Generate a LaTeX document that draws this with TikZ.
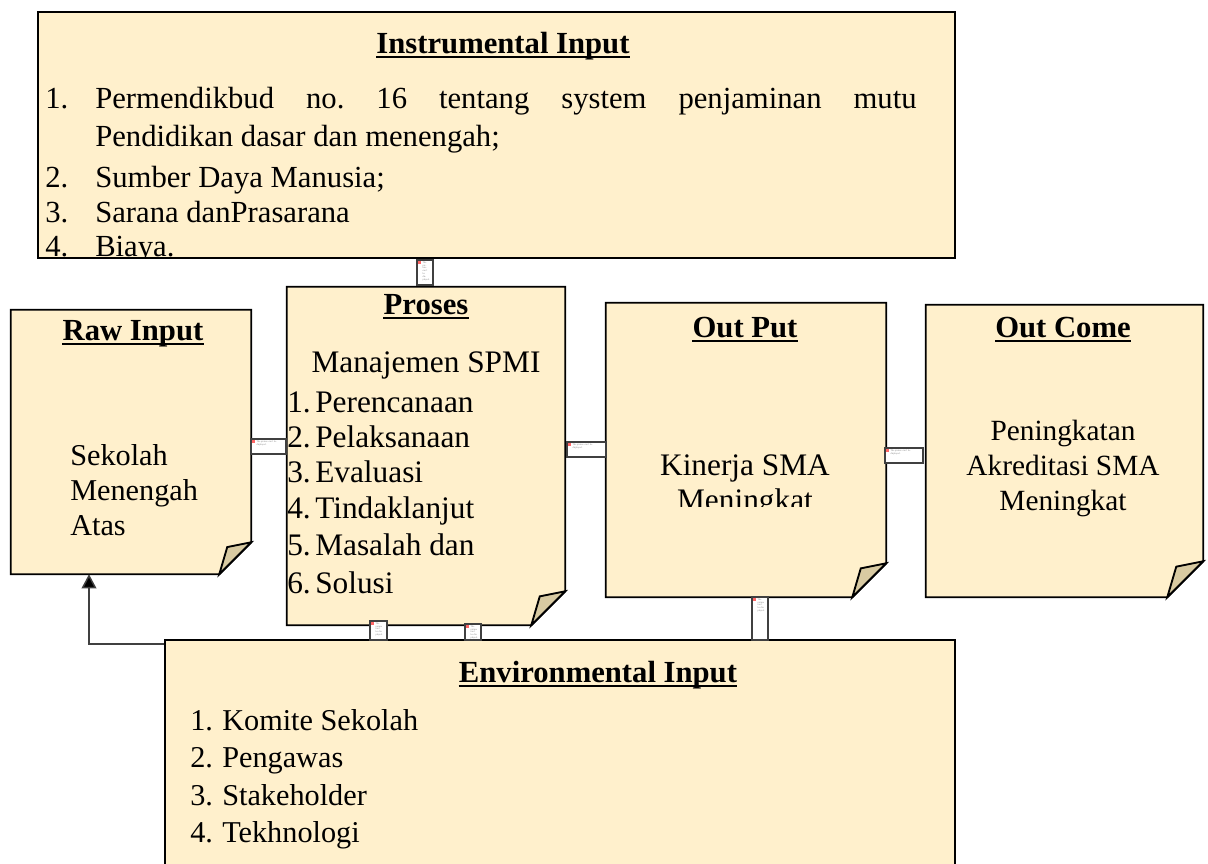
\documentclass[tikz,border=0pt]{standalone}
\usepackage{fontspec}
\setmainfont{Liberation Serif}
\frenchspacing
\usetikzlibrary{calc,fit,arrows.meta}
\definecolor{cream}{HTML}{FFF0CC}
\definecolor{foldc}{HTML}{D8CAA2}
\definecolor{lineg}{HTML}{404040}
\newcommand\insf{\fontsize{23}{27}\selectfont}
\newcommand\bigf{\fontsize{23.5}{27}\selectfont}
\newcommand\envf{\fontsize{22.7}{27}\selectfont}
\newcommand\ocf{\fontsize{22}{27}\selectfont}
\newcommand\headf{\fontsize{23}{27}\selectfont\bfseries}
% folded-corner box
\newcommand\foldbox[6]{%
  \path (#2,#3) coordinate (#1-nw) (#4,#5) coordinate (#1-se);
  \node[fit=(#1-nw)(#1-se), inner sep=0pt, draw=none] (#1) {};
  \filldraw[boxline, fill=cream] (#1.north west) -- (#1.north east) -- ($(#1.south east)+(0,-#6)$) -- ($(#1.south east)+(-#6,0)$) -- (#1.south west) -- cycle;
  \filldraw[boxline, fill=foldc] ($(#1.south east)+(-#6,0)$) -- ($(#1.south east)+(-0.75*#6,-0.85*#6)$) -- ($(#1.south east)+(0,-#6)$) -- cycle;
}
% broken picture placeholder
\newcommand\placeholder[6]{%
  \path (#2,#3) coordinate (#1-nw) (#4,#5) coordinate (#1-se);
  \node[fit=(#1-nw)(#1-se), inner sep=0pt, draw=lineg, line width=1pt, fill=white] (#1) {};
  \fill[red!60] ($(#1.north west)+(2,2)$) rectangle ++(3,3);
  \node[anchor=north west, inner sep=0pt, font=\fontsize{1.8}{2.1}\selectfont, text=gray, align=left, text width=#6] at ($(#1.north west)+(6,2)$) {The picture can't be displayed.};
}
% heading with thick underline
\newcommand\heading[3]{%
  \node[head] (#1) at (#2) {#3};
  \draw[line width=2pt] ([yshift=-3pt]#1.base west) -- ([yshift=-3pt]#1.base east);
}
\begin{document}
\begin{tikzpicture}[x=0.75pt,y=-0.75pt,
  boxline/.style={draw=black, line width=1.4pt, line join=miter},
  txt/.style={anchor=base west, inner sep=0pt},
  ctxt/.style={anchor=base, inner sep=0pt},
  head/.style={anchor=base, inner sep=0pt, font=\headf},
  arrowline/.style={draw=lineg, line width=1.1pt, -{Triangle[width=11pt,length=10.5pt,fill=black]}}]
\useasboundingbox (0,0) rectangle (1208,864);
\clip (0,0) rectangle (1208,864);

% Instrumental Input
\path (38,12) coordinate (ins-nw) (955,258) coordinate (ins-se);
\node[fit=(ins-nw)(ins-se), inner sep=0pt, boxline, fill=cream] (ins) {};
\begin{scope}
\clip (ins.north west) rectangle (ins.south east);
\heading{insh}{503,53}{Instrumental Input}
\begin{scope}[every node/.append style={font=\insf}]
\node[txt] (i1n) at (45,108) {1.};
\node[txt] (i1) at (95,108) {\makebox[616pt][s]{Permendikbud no. 16 tentang system penjaminan mutu}};
\node[txt] (i1b) at (95,146) {Pendidikan dasar dan menengah;};
\node[txt] (i2n) at (45,187) {2.};
\node[txt] (i2) at (95,187) {Sumber Daya Manusia;};
\node[txt] (i3n) at (45,222) {3.};
\node[txt] (i3) at (95,222) {Sarana danPrasarana};
\node[txt] (i4n) at (45,256) {4.};
\node[txt] (i4) at (95,256) {Biaya.};
\end{scope}
\end{scope}

% Raw Input
\foldbox{raw}{11}{310}{251}{574}{32}
\heading{rawh}{133,340}{Raw Input}
\begin{scope}[every node/.append style={font=\envf}]
\node[txt] (r1) at (70,465) {Sekolah};
\node[txt] (r2) at (70,500) {Menengah};
\node[txt] (r3) at (70,535) {Atas};
\end{scope}

% Proses
\foldbox{pro}{287}{287}{565}{625}{34}
\heading{proh}{426,314}{Proses}
\begin{scope}[every node/.append style={font=\bigf}]
\node[ctxt] (pm) at (426,372) {Manajemen SPMI};
\foreach \n/\t/\y in {1/Perencanaan/412,2/Pelaksanaan/447,3/Evaluasi/482,4/Tindaklanjut/518,5/Masalah dan/555,6/Solusi/593}{
  \node[txt] (p\n n) at (287,\y) {\n.};
  \node[txt] (p\n) at (315,\y) {\t};
}
\end{scope}

% Out Put
\foldbox{out}{606}{303}{886}{597}{34}
\heading{outh}{745,337}{Out Put}
\begin{scope}[every node/.append style={font=\bigf}]
\clip (606,303) rectangle (886,506);
\node[ctxt] (o1) at (745,475) {Kinerja SMA};
\node[ctxt] (o2) at (745,510) {Meningkat};
\end{scope}

% Out Come
\foldbox{oc}{926}{305}{1203}{597}{36}
\heading{och}{1063,337}{Out Come}
\begin{scope}[every node/.append style={font=\ocf}]
\node[ctxt] (c1) at (1063,440) {Peningkatan};
\node[ctxt] (c2) at (1063,475) {Akreditasi SMA};
\node[ctxt] (c3) at (1063,510) {Meningkat};
\end{scope}

% Environmental Input
\path (165,640) coordinate (env-nw) (955,900) coordinate (env-se);
\node[fit=(env-nw)(env-se), inner sep=0pt, boxline, fill=cream] (env) {};
\heading{envh}{598,682}{Environmental Input}
\begin{scope}[every node/.append style={font=\envf}]
\foreach \n/\t/\y in {1/Komite Sekolah/730,2/Pengawas/767,3/Stakeholder/805,4/Tekhnologi/842}{
  \node[txt] (e\n n) at (190,\y) {\n.};
  \node[txt] (e\n) at (222,\y) {\t};
}
\end{scope}

% arrow from Environmental Input to Raw Input
\coordinate (envL) at (env.north west |- 0,644);
\coordinate (rawB) at (raw.south west -| 89,0);
\draw[arrowline] (envL) -| (rawB);

% placeholders
\placeholder{ph1}{417}{260}{433}{285}{4pt}
\placeholder{ph2}{251}{439}{286}{454}{16pt}
\placeholder{ph3}{567}{442}{606}{457}{18pt}
\placeholder{ph4}{885}{448}{923}{463}{18pt}
\placeholder{ph5}{370}{621}{387}{640}{5pt}
\placeholder{ph6}{465}{624}{481}{640}{5pt}
\placeholder{ph7}{752}{597}{768}{640}{5pt}
\end{tikzpicture}
\end{document}
